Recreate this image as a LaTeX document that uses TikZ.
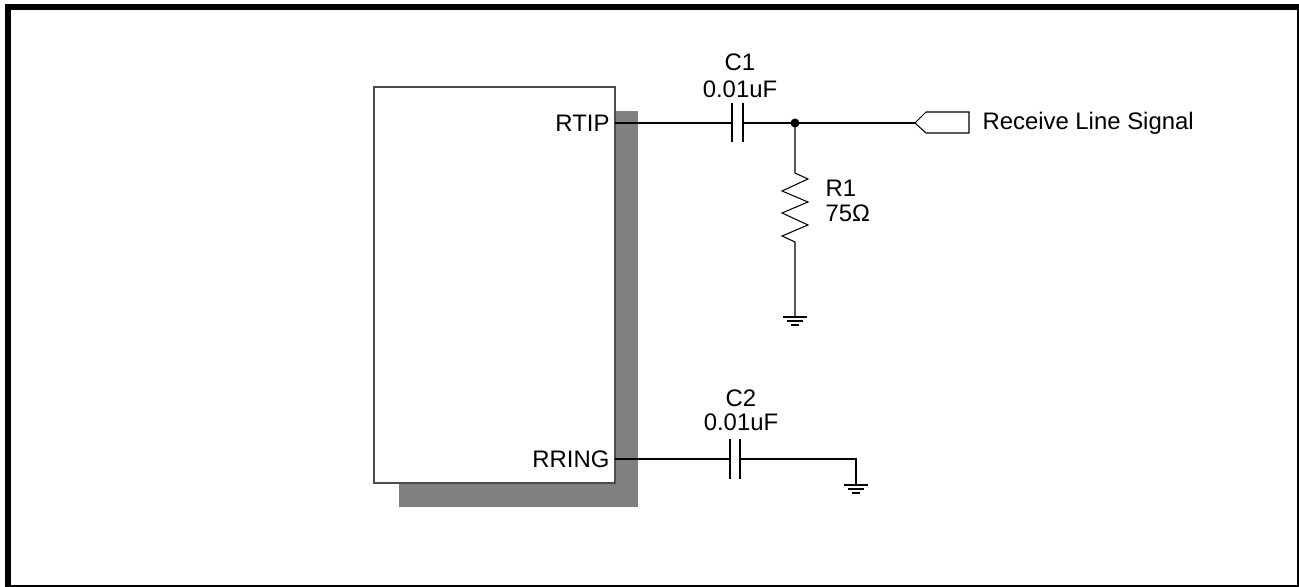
\documentclass[tikz,border=0pt]{standalone}
\usepackage{fontspec}
\setmainfont{Liberation Sans}
\usetikzlibrary{positioning,calc}

\tikzset{
    lbl/.style={font=\fontsize{13.6}{15}\selectfont, inner sep=0pt},
    plate/.style={line width=0.6pt},
    gndline/.style={line width=0.6pt}
}

\begin{document}
\begin{tikzpicture}[x=0.02cm,y=-0.02cm,line width=0.6pt]
    \useasboundingbox (0,0) rectangle (1299,587);
    \draw[line width=3.4pt] (8,7) rectangle (1300,588);
    % chip and its shadow
    \fill[gray] (399,111) rectangle (638,507);
    \draw[fill=white,draw=black!70,line width=0.9pt] (374,87) rectangle (615,483);
    \node[lbl,anchor=east] (rtiplbl) at (610,123) {RTIP};
    \node[lbl,anchor=east] (rringlbl) at (610,459) {RRING};
    \coordinate (rtip) at (615,123);
    \coordinate (rring) at (615,459);
    % C1
    \coordinate (c1a) at (732,123);
    \coordinate (c1b) at (743,123);
    \draw[plate] (c1a) ++(0,-20) -- ++(0,39);
    \draw[plate] (c1b) ++(0,-20) -- ++(0,39);
    \node[lbl] (c1name) at (740,62) {C1};
    \node[lbl] (c1val) at (740,89) {0.01uF};
    \coordinate (node1) at (795,123);
    \draw (rtip) -- (c1a);
    \draw (c1b) -- (node1);
    \fill (node1) circle (4.5);
    % receive line connector
    \coordinate (tip) at (915,123);
    \draw (node1) -- (tip);
    \draw (tip) -- (926,112) -- (969,112) -- (969,133) -- (926,133) -- cycle;
    \node[lbl,anchor=west] (sig) at (982,123) {Receive Line Signal};
    % R1
    \coordinate (r1top) at (795,173);
    \coordinate (r1bot) at (795,242);
    \coordinate (gnd1) at (795,317);
    \draw (node1) -- (r1top) -- (808,179) -- (782,191) -- (808,202) -- (782,213)
        -- (808,225) -- (782,236) -- (r1bot) -- (gnd1);
    \node[lbl,anchor=west] (r1name) at (825,188) {R1};
    \node[lbl,anchor=west] (r1val) at (825,213) {75Ω};
    \draw[gndline] (gnd1) ++(-12,0) -- ++(24,0);
    \draw[gndline] (gnd1) ++(-8,4) -- ++(16,0);
    \draw[gndline] (gnd1) ++(-4,8) -- ++(8,0);
    % C2
    \coordinate (c2a) at (730,459);
    \coordinate (c2b) at (740,459);
    \draw[plate] (c2a) ++(0,-20) -- ++(0,40);
    \draw[plate] (c2b) ++(0,-20) -- ++(0,40);
    \node[lbl] (c2name) at (741,398) {C2};
    \node[lbl] (c2val) at (741,422) {0.01uF};
    \coordinate (gnd2) at (856,485);
    \draw (rring) -- (c2a);
    \draw (c2b) -- (856,459) -- (gnd2);
    \draw[gndline] (gnd2) ++(-12,0) -- ++(24,0);
    \draw[gndline] (gnd2) ++(-8,4) -- ++(16,0);
    \draw[gndline] (gnd2) ++(-4,8) -- ++(8,0);
\end{tikzpicture}
\end{document}
